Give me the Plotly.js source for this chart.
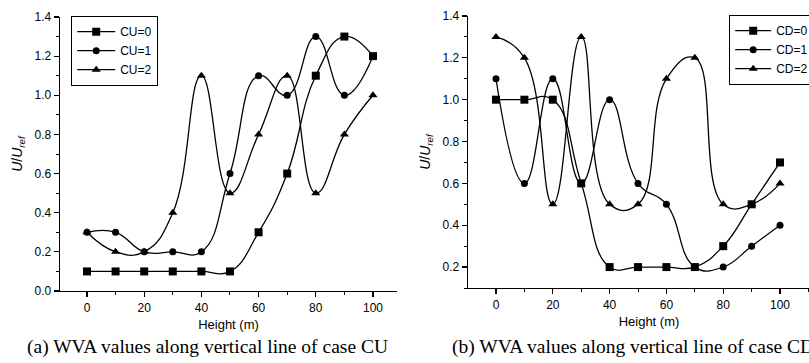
<!DOCTYPE html>
<html>
<head>
<meta charset="utf-8">
<script src="https://cdn.plot.ly/plotly-3.0.1.min.js"></script>
<style>
html,body{margin:0;padding:0;background:#fff;overflow:hidden;}
#wrap{width:809px;height:363px;overflow:hidden;}
#chart{width:830px;height:363px;}
</style>
</head>
<body>
<div id="wrap"><div id="chart"></div></div>
<script>
// Heights (m)
const heights = [0, 10, 20, 30, 40, 50, 60, 70, 80, 90, 100];
// Case CU
const cuNames = ["CU=0", "CU=1", "CU=2"];
const cu0 = [0.1, 0.1, 0.1, 0.1, 0.1, 0.1, 0.3, 0.6, 1.1, 1.3, 1.2];
const cu1 = [0.3, 0.3, 0.2, 0.2, 0.2, 0.6, 1.1, 1.0, 1.3, 1.0, 1.2];
const cu2 = [0.3, 0.2, 0.2, 0.4, 1.1, 0.5, 0.8, 1.1, 0.5, 0.8, 1.0];
// Case CD
const cdNames = ["CD=0", "CD=1", "CD=2"];
const cd0 = [1.0, 1.0, 1.0, 0.6, 0.2, 0.2, 0.2, 0.2, 0.3, 0.5, 0.7];
const cd1 = [1.1, 0.6, 1.1, 0.6, 1.0, 0.6, 0.5, 0.2, 0.2, 0.3, 0.4];
const cd2 = [1.3, 1.2, 0.5, 1.3, 0.5, 0.5, 1.1, 1.2, 0.5, 0.5, 0.6];
// Tick labels
const yTicksA = [0.0, 0.2, 0.4, 0.6, 0.8, 1.0, 1.2, 1.4];
const yTicksB = [0.2, 0.4, 0.6, 0.8, 1.0, 1.2, 1.4];
const xTicks = [0, 20, 40, 60, 80, 100];
const captionA = "(a) WVA values along vertical line of case CU";
const captionB = "(b) WVA values along vertical line of case CD";

const symbols = ["square", "circle", "triangle-up"];
const sizes = [8, 7, 8];

function mk(y, name, i, xa, ya, leg) {
  return {
    x: heights, y: y, name: name, type: "scatter", mode: "lines+markers",
    xaxis: xa, yaxis: ya, legend: leg,
    line: {color: "#000", width: 1.3, shape: "spline", smoothing: 1.3},
    marker: {symbol: symbols[i], size: sizes[i], color: "#000"}
  };
}

const data = [
  mk(cu0, cuNames[0], 0, "x", "y", "legend"),
  mk(cu1, cuNames[1], 1, "x", "y", "legend"),
  mk(cu2, cuNames[2], 2, "x", "y", "legend"),
  mk(cd0, cdNames[0], 0, "x2", "y2", "legend2"),
  mk(cd1, cdNames[1], 1, "x2", "y2", "legend2"),
  mk(cd2, cdNames[2], 2, "x2", "y2", "legend2")
];

const W = 830, H = 363;
const tickFont = {family: "Liberation Sans, Arial, sans-serif", size: 12, color: "#000"};
const titleFont = {family: "Liberation Sans, Arial, sans-serif", size: 13, color: "#000"};
function xax(domain, range) {
  return {
    domain: domain, range: range, tickvals: xTicks, ticktext: xTicks.map(String),
    showgrid: false, zeroline: false, showline: true, linecolor: "#000", linewidth: 1.3,
    ticks: "outside", ticklen: 5, tickwidth: 1.2, tickcolor: "#000", tickfont: tickFont,
    minor: {dtick: 10, tick0: 0, ticks: "outside", ticklen: 3, tickwidth: 1, tickcolor: "#000", showgrid: false},
    title: {text: "Height (m)", font: titleFont, standoff: 6}, automargin: false, fixedrange: true
  };
}
function yax(domain, range, ticks, anchor) {
  return {
    domain: domain, range: range, anchor: anchor, tickvals: ticks, ticktext: ticks.map(v => v.toFixed(1)),
    showgrid: false, zeroline: false, showline: true, linecolor: "#000", linewidth: 1.3,
    ticks: "outside", ticklen: 5, tickwidth: 1.2, tickcolor: "#000", tickfont: tickFont,
    minor: {dtick: 0.1, tick0: 0, ticks: "outside", ticklen: 3, tickwidth: 1, tickcolor: "#000", showgrid: false},
    title: {text: "<i>U</i>/<i>U</i><sub><i>ref</i></sub>", font: {family: "Liberation Sans, Arial, sans-serif", size: 14, color: "#000"}, standoff: 8},
    automargin: false, fixedrange: true
  };
}
const legFont = {family: "Liberation Sans, Arial, sans-serif", size: 12, color: "#000"};
const layout = {
  width: W, height: H, margin: {l: 0, r: 0, t: 0, b: 0},
  paper_bgcolor: "#fff", plot_bgcolor: "#fff", showlegend: true,
  xaxis: xax([60 / W, 397 / W], [-9.44, 108.4]),
  yaxis: yax([1 - 291 / H, 1 - 17 / H], [0, 1.4], yTicksA, "x"),
  xaxis2: Object.assign(xax([468 / W, 1], [-9.86, 117.6]), {anchor: "y2"}),
  yaxis2: yax([1 - 288 / H, 1 - 16 / H], [0.1, 1.4], yTicksB, "x2"),
  legend: {x: 71 / W, y: 1 - 16 / H, xanchor: "left", yanchor: "top", bgcolor: "#fff",
    bordercolor: "#000", borderwidth: 1.2, font: legFont, tracegroupgap: 0, itemwidth: 38},
  legend2: {x: 729 / W, y: 1 - 15 / H, xanchor: "left", yanchor: "top", bgcolor: "#fff",
    bordercolor: "#000", borderwidth: 1.2, font: legFont, tracegroupgap: 0, itemwidth: 36},
  annotations: [
    {text: captionA, xref: "paper", yref: "paper", x: 207 / W, y: 1 - 347 / H, xanchor: "center", yanchor: "middle",
     showarrow: false, font: {family: "Liberation Serif, Times New Roman, serif", size: 19.5, color: "#000"}},
    {text: captionB, xref: "paper", yref: "paper", x: 450 / W, y: 1 - 347 / H, xanchor: "left", yanchor: "middle",
     showarrow: false, font: {family: "Liberation Serif, Times New Roman, serif", size: 19.5, color: "#000"}}
  ]
};
Plotly.newPlot("chart", data, layout, {displayModeBar: false, staticPlot: true});
</script>
</body>
</html>
